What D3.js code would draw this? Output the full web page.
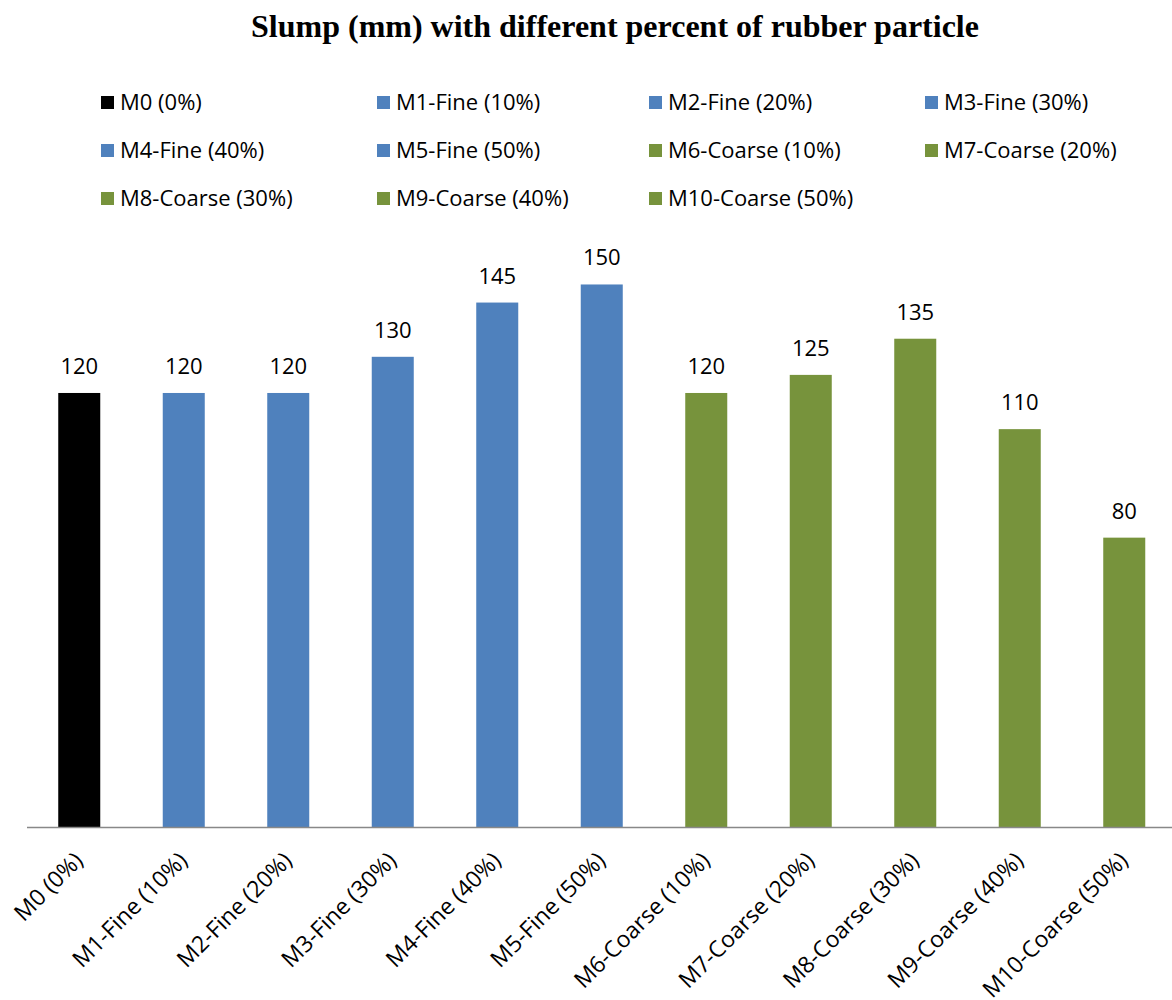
<!DOCTYPE html>
<html>
<head>
<meta charset="utf-8">
<script src="https://cdn.jsdelivr.net/npm/d3@7/dist/d3.min.js"></script>
<style>
  html, body { margin: 0; padding: 0; background: #ffffff; }
  svg { display: block; }
</style>
</head>
<body>
<svg id="chart" width="1172" height="1000"></svg>
<script>
// Mix designations and measured slump (mm)
const categories = [
  "M0 (0%)", "M1-Fine (10%)", "M2-Fine (20%)", "M3-Fine (30%)",
  "M4-Fine (40%)", "M5-Fine (50%)", "M6-Coarse (10%)", "M7-Coarse (20%)",
  "M8-Coarse (30%)", "M9-Coarse (40%)", "M10-Coarse (50%)"
];
const slumpValues = [120, 120, 120, 130, 145, 150, 120, 125, 135, 110, 80];
const rubberType = ["Control", "Fine", "Fine", "Fine", "Fine", "Fine",
  "Coarse", "Coarse", "Coarse", "Coarse", "Coarse"];

const typeColor = { Control: "#000000", Fine: "#4f81bd", Coarse: "#77933c" };
const font = "'Open Sans', sans-serif";

const svg = d3.select("#chart");

// Title
svg.append("text")
  .attr("x", 615).attr("y", 37)
  .attr("text-anchor", "middle")
  .attr("font-family", "'Liberation Serif', 'Times New Roman', serif")
  .attr("font-weight", "bold")
  .attr("font-size", 32)
  .attr("fill", "#000")
  .text("Slump (mm) with different percent of rubber particle");

// Legend: four columns, three rows
const legendCols = [101, 377, 649, 925];
const legendRowTop = 96, legendRowGap = 48, swatch = 13;
const legend = svg.append("g");
categories.forEach((c, i) => {
  const col = i % 4, row = Math.floor(i / 4);
  const g = legend.append("g")
    .attr("transform", `translate(${legendCols[col]},${legendRowTop + row * legendRowGap})`);
  g.append("rect").attr("width", swatch).attr("height", swatch)
    .attr("fill", typeColor[rubberType[i]]);
  g.append("text")
    .attr("x", swatch + 6).attr("y", swatch / 2)
    .attr("dy", "0.36em")
    .attr("font-family", font).attr("font-size", 22)
    .attr("fill", "#000")
    .text(c);
});

// Scales
const baseY = 827;
const x = d3.scaleBand()
  .domain(categories)
  .range([27, 1176.5])
  .paddingInner(0.598)
  .paddingOuter(0.299);
const y = d3.scaleLinear().domain([0, 160]).range([baseY, 248.3]);

// Bars
svg.append("g").selectAll("rect")
  .data(categories)
  .join("rect")
  .attr("x", d => x(d))
  .attr("y", (d, i) => y(slumpValues[i]))
  .attr("width", x.bandwidth())
  .attr("height", (d, i) => y(0) - y(slumpValues[i]))
  .attr("fill", (d, i) => typeColor[rubberType[i]]);

// Value labels
svg.append("g").selectAll("text")
  .data(categories)
  .join("text")
  .attr("x", d => x(d) + x.bandwidth() / 2)
  .attr("y", (d, i) => y(slumpValues[i]) - 19)
  .attr("text-anchor", "middle")
  .attr("font-family", font).attr("font-size", 22)
  .attr("fill", "#000")
  .text((d, i) => slumpValues[i]);

// Category axis
const axis = svg.append("g")
  .attr("transform", `translate(0,${baseY})`)
  .call(d3.axisBottom(x).tickSize(0).tickSizeOuter(0));
axis.select(".domain")
  .attr("d", "M27,0.5H1172")
  .attr("stroke", "#888888").attr("stroke-width", 1.6);
axis.selectAll(".tick text")
  .attr("font-family", font).attr("font-size", 23)
  .attr("fill", "#000")
  .attr("text-anchor", "end")
  .attr("transform", "translate(5,35) rotate(-45)")
  .attr("dy", 0)
  .attr("y", 0).attr("x", 0);
</script>
</body>
</html>
